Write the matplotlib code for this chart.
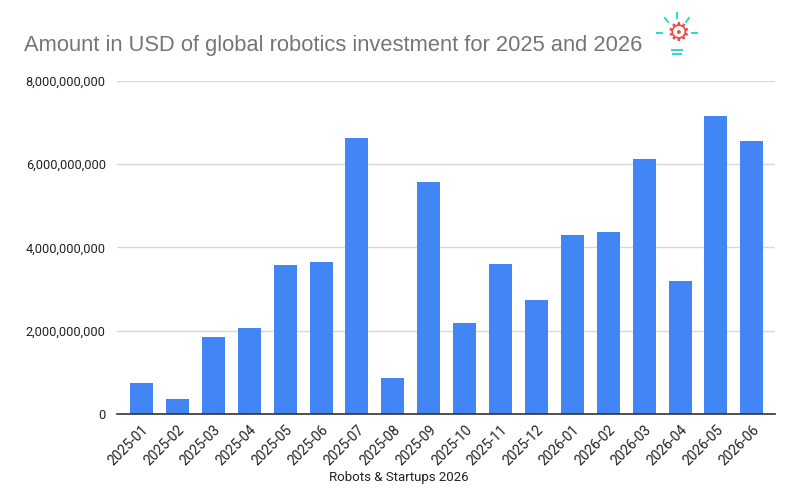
import matplotlib
matplotlib.use("Agg")
import matplotlib.pyplot as plt
from matplotlib.ticker import FuncFormatter, FixedLocator
from matplotlib.lines import Line2D

months = ["2025-01", "2025-02", "2025-03", "2025-04", "2025-05", "2025-06",
          "2025-07", "2025-08", "2025-09", "2025-10", "2025-11", "2025-12",
          "2026-01", "2026-02", "2026-03", "2026-04", "2026-05", "2026-06"]
investment = [0.74e9, 0.37e9, 1.84e9, 2.07e9, 3.58e9, 3.65e9,
              6.63e9, 0.87e9, 5.58e9, 2.19e9, 3.61e9, 2.74e9,
              4.29e9, 4.37e9, 6.13e9, 3.19e9, 7.16e9, 6.55e9]
y_ticks = [0, 2e9, 4e9, 6e9, 8e9]
title = "Amount in USD of global robotics investment for 2025 and 2026"
x_label = "Robots & Startups 2026"

fig = plt.figure(figsize=(8, 5), dpi=100)
ax = fig.add_axes([0.146, 0.172, 0.823, 0.666])

x = list(range(len(months)))
ax.bar(x, investment, width=0.64, color="#4285F4", zorder=3)

ax.set_xlim(-0.69, len(months) - 1 + 0.65)
ax.set_ylim(0, 8e9)
ax.yaxis.set_major_locator(FixedLocator(y_ticks))
ax.yaxis.set_major_formatter(FuncFormatter(lambda v, p: f"{int(v):,}"))
ax.grid(axis="y", color="#d9d9d9", linewidth=1, zorder=0)
ax.set_xticks(x)
ax.set_xticklabels(months, rotation=45, ha="right", rotation_mode="anchor",
                   fontsize=10, color="#222222", family="Roboto")
for lbl in ax.get_yticklabels():
    lbl.set_family("Roboto")
    lbl.set_fontsize(9.2)
    lbl.set_color("#222222")
ax.tick_params(axis="both", length=0)
ax.tick_params(axis="y", pad=8)
ax.tick_params(axis="x", pad=6)
for s in ["top", "right", "left"]:
    ax.spines[s].set_visible(False)
ax.spines["bottom"].set_color("#333333")
ax.spines["bottom"].set_linewidth(1.2)
ax.spines["bottom"].set_zorder(4)

fig.text(399 / 800, 1 - 478 / 500, x_label, ha="center", va="center",
         fontsize=9.5, color="#222222", family="Roboto")
fig.text(24 / 800, 1 - 45 / 500, title, ha="left", va="center",
         fontsize=15.75, color="#757575", family="Liberation Sans")

# small lightbulb/gear icon approximation
cx, cy = 678 / 800, 1 - 34 / 500
fig.text(cx, cy, "\u2699", ha="center", va="center", fontsize=19,
         color="#ef4d4d", family="DejaVu Sans")
for (x0, y0, x1, y1) in [(677, 13, 677, 18), (665, 18, 668, 22), (689, 18, 686, 22),
                         (657, 33, 662, 33), (692, 33, 697, 33),
                         (672, 50, 682, 50), (673, 54, 681, 54)]:
    fig.add_artist(Line2D([x0 / 800, x1 / 800], [1 - y0 / 500, 1 - y1 / 500],
                          color="#36d6d6", linewidth=1.5, transform=fig.transFigure))

fig.savefig("out.png", dpi=100, facecolor="white")
